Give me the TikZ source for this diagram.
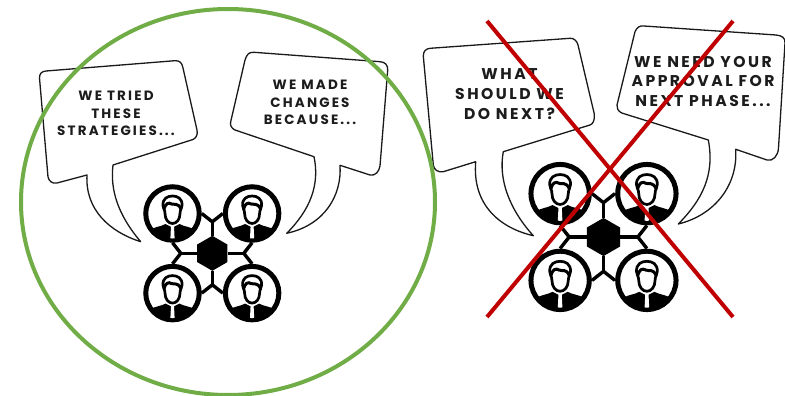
\documentclass[tikz,border=0pt]{standalone}
\usepackage{fontspec}
\setmainfont[LetterSpace=16]{Poppins Bold}
\usetikzlibrary{shapes.geometric}
\definecolor{okgreen}{HTML}{70AD47}
\definecolor{nored}{HTML}{C00000}
\definecolor{inkc}{HTML}{1C1C1C}
\tikzset{
  bubble/.style={draw=black!90,line width=1.3pt,fill=white,line join=round},
  say/.style={align=center,text=inkc,font=\fontsize{13.5}{17.6}\selectfont,inner sep=0pt},
  saybig/.style={say,font=\fontsize{15.6}{19.7}\selectfont},
  link/.style={line width=3.4pt,black},
  ring/.style={circle,draw=black,fill=white,line width=5pt,minimum size=53.5pt,inner sep=0pt},
  hub/.style={regular polygon,regular polygon sides=6,shape border rotate=30,fill=black,minimum size=35pt,inner sep=0pt},
  person/.pic={
    \begin{scope}
      \clip (0,0) circle (25);
      \fill[black] (-7,10.5) .. controls (-11,13) and (-19,13.5) .. (-21,16) -- (-26,30) -- (26,30) -- (21,16) .. controls (19,13.5) and (11,13) .. (7,10.5) -- (0,14) -- cycle;
      \fill[white] (-1.5,12.5) -- (1.5,12.5) -- (2.2,27) -- (-2.2,27) -- cycle;
    \end{scope}
    \draw[black,line width=2.7pt,fill=white] (-9.5,-8) .. controls (-10,-15) and (-5,-17.5) .. (0,-17.5) .. controls (5,-17.5) and (10,-15) .. (9.5,-8) .. controls (9.5,-5) and (7.5,-4) .. (7.5,0) .. controls (7.5,6) and (4,10) .. (0,10) .. controls (-4,10) and (-7.5,6) .. (-7.5,0) .. controls (-7.5,-4) and (-9.5,-5) .. (-9.5,-8) -- cycle;
    \draw[black,line width=3pt,line cap=round] (-8.5,-4.5) .. controls (-7,-10) and (-4,-11.5) .. (-1,-9.5) .. controls (2,-8) and (5,-11.5) .. (8.5,-4.5);
  },
  team/.pic={
    \coordinate (jt) at (0,-31.5);
    \coordinate (jb) at (0,31.5);
    \coordinate (jl) at (-31.5,0);
    \coordinate (jr) at (31.5,0);
    \node[ring] (a) at (-39.8,-39.8) {};
    \node[ring] (b) at (39.8,-39.8) {};
    \node[ring] (c) at (-39.8,39.8) {};
    \node[ring] (d) at (39.8,39.8) {};
    \node[hub] (h) at (0,0) {};
    \draw[link] (h) -- (jt) (h) -- (jb) (h) -- (jl) (h) -- (jr);
    \draw[link] (jt) -- (a.east) (jt) -- (b.west) (jb) -- (c.east) (jb) -- (d.west);
    \draw[link] (jl) -- (a.south) (jl) -- (c.north) (jr) -- (b.south) (jr) -- (d.north);
    \pic at (a) {person};
    \pic at (b) {person};
    \pic at (c) {person};
    \pic at (d) {person};
  }
}
\begin{document}
\begin{tikzpicture}[x=1pt,y=-1pt]
\useasboundingbox (0,0) rectangle (785,396);
\clip (0,0) rectangle (785,396);
% left bubbles
\draw[bubble] (39.5,78) .. controls (39.5,73) and (42,71.5) .. (46,71) -- (175,60.7) .. controls (180,60.5) and (182,63) .. (183,68) -- (197,130) .. controls (198,135) and (196,138) .. (193,139.5) -- (113,165) .. controls (110,190) and (118,215) .. (140.7,241.7) .. controls (110,232) and (85,210) .. (87,175) -- (57,183) .. controls (52,184) and (49,181) .. (48,177) -- cycle;
\draw[bubble] (245,60) .. controls (247,54) and (249,52) .. (254,52.3) -- (380,61.7) .. controls (385,62) and (388,65) .. (387.7,70) -- (380,166) .. controls (379,172) and (375,176) .. (370,175) -- (340,165.3) .. controls (342,195) and (325,225) .. (286.7,233.3) .. controls (310,210) and (320,185) .. (314,156.7) -- (235,130) .. controls (231,128) and (230,125) .. (230.7,121.7) -- cycle;
% right bubbles
\draw[bubble] (423.3,56) .. controls (423.3,51) and (426,48.8) .. (430,48.3) -- (570,38.3) .. controls (574,38) and (577,41) .. (578,45) -- (594.3,114) .. controls (595,120) and (593,124) .. (590,125) -- (503.3,151.7) .. controls (498,180) and (510,210) .. (533.3,235.7) .. controls (500,228) and (472,205) .. (475.7,161.7) -- (443.3,171.7) .. controls (438,172.5) and (434,170) .. (433.3,165) -- cycle;
\draw[bubble] (635,31.7) .. controls (637,27) and (640,25.5) .. (644,26) -- (776,35) .. controls (782,35.5) and (785.5,38) .. (785,43) -- (778.5,148) .. controls (778,156) and (773,161.5) .. (767,160) -- (735.7,149.3) .. controls (738,185) and (715,215) .. (678.3,224) .. controls (702,200) and (715,175) .. (708.3,140) -- (621.7,113) .. controls (618,111) and (616.5,108) .. (617,105) -- cycle;
% teams
\pic at (212.3,253.3) {team};
\begin{scope}[shift={(603.5,237)},scale=1.09,every node/.append style={transform shape}]
\pic at (0,0) {team};
\end{scope}
% labels
\node[say] (t1) at (116,113.5) {WE TRIED\\THESE\\STRATEGIES...};
\node[say] (t2) at (310,102.5) {WE MADE\\CHANGES\\BECAUSE...};
\node[saybig] (t3) at (509.5,94) {WHAT\\SHOULD WE\\DO NEXT?};
\node[saybig] (t4) at (703,81.5) {WE NEED YOUR\\APPROVAL FOR\\NEXT PHASE...};
% marks
\draw[okgreen,line width=4pt] (228,202) ellipse [x radius=207,y radius=193];
\coordinate (x1) at (487,21);
\coordinate (x2) at (733,317);
\coordinate (x3) at (733,21);
\coordinate (x4) at (487,317);
\draw[nored,line width=4pt] (x1) -- (x2);
\draw[nored,line width=4pt] (x3) -- (x4);
\end{tikzpicture}
\end{document}
